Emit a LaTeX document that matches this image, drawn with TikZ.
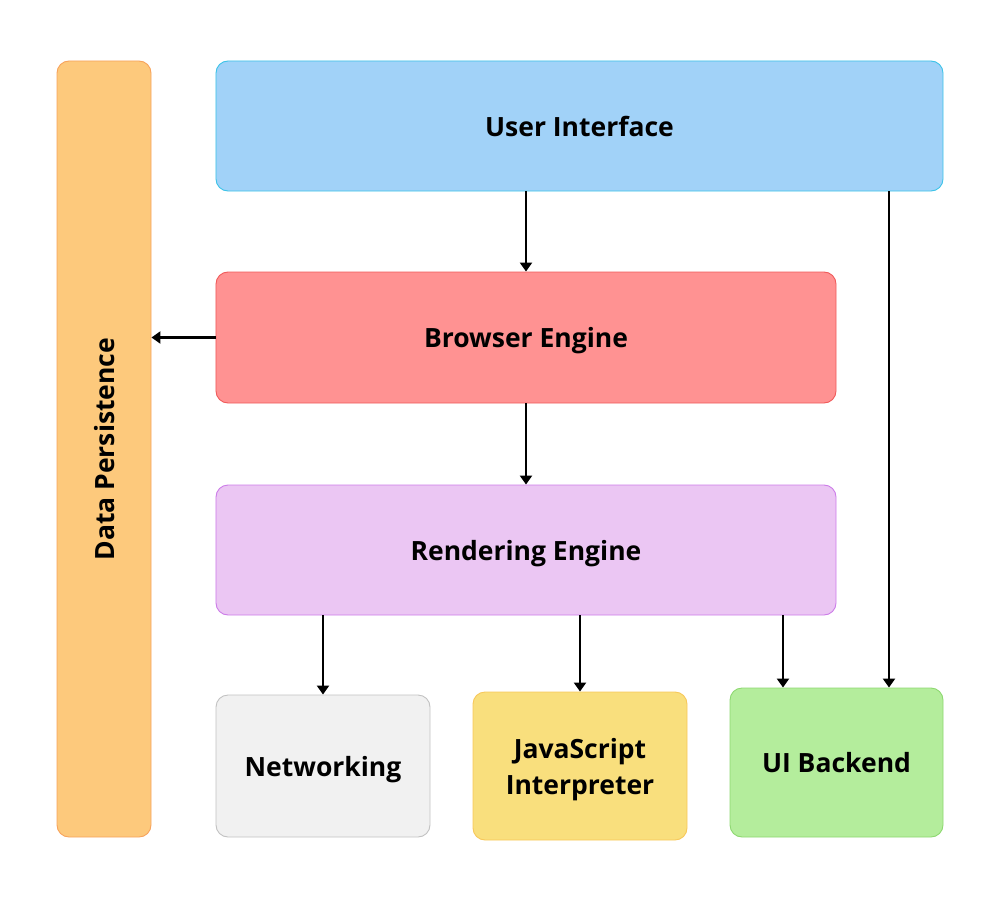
\documentclass[tikz,border=0pt]{standalone}
\usepackage{fontspec}
\setmainfont{Open Sans}
\usetikzlibrary{arrows.meta}
\definecolor{dpfill}{HTML}{FDC97C}\definecolor{dpline}{HTML}{F7A35C}
\definecolor{uifill}{HTML}{A1D2F8}\definecolor{uiline}{HTML}{3CC3E8}
\definecolor{befill}{HTML}{FF9292}\definecolor{beline}{HTML}{F05A5A}
\definecolor{refill}{HTML}{EBC6F3}\definecolor{reline}{HTML}{CC7CE8}
\definecolor{nwfill}{HTML}{F1F1F1}\definecolor{nwline}{HTML}{C2C2C2}
\definecolor{jsfill}{HTML}{F9DF7D}\definecolor{jsline}{HTML}{F7C85A}
\definecolor{ubfill}{HTML}{B4ED9C}\definecolor{ubline}{HTML}{8DD870}
\tikzset{
  lbl/.style={font=\bfseries\fontsize{26.5bp}{36bp}\selectfont, align=center, text depth=0pt},
  blk/.style={lbl, rounded corners=12bp, line width=0.9bp, inner sep=0pt},
  conn/.style={line width=2.8bp, -{Triangle[length=9bp,width=12bp]}},
}
\begin{document}
\begin{tikzpicture}[x=1bp,y=-1bp]
\useasboundingbox (0,0) rectangle (1000,902);
\node[blk, draw=dpline, fill=dpfill, minimum width=94bp, minimum height=776bp] (dp) at (104,449) {};
\node[lbl, rotate=90] (dpt) at (dp.center) {Data Persistence};
\node[blk, draw=uiline, fill=uifill, minimum width=727bp, minimum height=130bp] (ui) at (579.5,126) {User Interface};
\node[blk, draw=beline, fill=befill, minimum width=620bp, minimum height=131bp] (be) at (526,337.5) {Browser Engine};
\node[blk, draw=reline, fill=refill, minimum width=620bp, minimum height=130bp] (re) at (526,550) {Rendering Engine};
\node[blk, draw=nwline, fill=nwfill, minimum width=214bp, minimum height=142bp] (nw) at (323,766) {Networking};
\node[blk, draw=jsline, fill=jsfill, minimum width=214bp, minimum height=148bp] (js) at (580,766) {JavaScript\\Interpreter};
\node[blk, draw=ubline, fill=ubfill, minimum width=213bp, minimum height=149bp] (ub) at (836.5,762.5) {UI Backend};
\draw[conn] (ui.south -| be.north) -- (be.north);
\draw[conn] (ui.south -| 889,0) -- (ub.north -| 889,0);
\draw[conn] (be.west) -- (be.west -| dp.east);
\draw[conn] (be.south) -- (re.north);
\draw[conn] (re.south -| nw.north) -- (nw.north);
\draw[conn] (re.south -| js.north) -- (js.north);
\draw[conn] (re.south -| 783,0) -- (ub.north -| 783,0);
\end{tikzpicture}
\end{document}
